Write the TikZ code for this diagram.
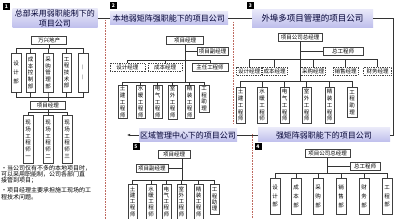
\documentclass[tikz,border=0pt]{standalone}
\usepackage{fontspec}
\setmainfont{Noto Sans CJK SC}
\usetikzlibrary{calc,arrows.meta}

\definecolor{lav}{RGB}{190,190,236}
\definecolor{sepred}{RGB}{190,105,95}

\begin{document}
\begin{tikzpicture}[x=1pt,y=-1pt,
    box/.style={draw=black!75, fill=white, line width=0.5pt, inner sep=1pt, minimum height=8pt, font=\fontsize{5.5}{6}\selectfont},
    dbox/.style={box, dash pattern=on 1pt off 0.8pt},
    col/.style={box, anchor=north, align=center, minimum width=9.5pt, inner sep=0.8pt, font=\fontsize{5.5}{6.7}\selectfont},
    title/.style={top color=lav!35, bottom color=lav, inner sep=1pt, align=center, text=black!80!blue, font=\fontsize{8}{9.5}\selectfont},
    num/.style={fill=black, text=white, inner sep=0pt, minimum size=7pt, font=\fontsize{5}{5}\selectfont\bfseries},
    sep/.style={sepred, line width=0.8pt, dash pattern=on 0.6pt off 1pt},
    link/.style={black!80, line width=0.5pt}]
    \clip (0,0) rectangle (400,219);
    \fill[white] (0,0) rectangle (400,219);

    \draw[sep] (105,20) -- (105,219);
    \draw[sep] (233,22) -- (233,124);
    \draw[sep] (252,134) -- (252,219);

    \node[num] (n1) at (6.5,6.5) {1};
    \node[title, minimum width=85pt, minimum height=19pt] (t1) at (55,18.5) {总部采用弱职能制下的\\项目公司};
    \node[box, minimum width=35pt] (c1) at (49,40) {万兴地产};
    \node[col, minimum height=39pt] (k1a) at (16,53) {设\\[2.5pt]计\\[2.5pt]部};
    \node[col, minimum height=39pt] (k1b) at (30.5,53) {成\\本\\控\\制\\部};
    \node[col, minimum height=39pt] (k1c) at (48,53) {采\\购\\管\\理\\部};
    \node[col, minimum height=39pt] (k1d) at (66.5,53) {工\\程\\技\\术\\部};
    \node[col, minimum height=39pt] (k1e) at (83,53) {︱\\[3pt]︱};
    \coordinate (b1t) at (0,48);
    \coordinate (b1b) at (0,97);
    \node[box, minimum width=35pt] (pm1) at (48,105) {项目经理};
    \coordinate (b1c) at (0,112);
    \node[col, minimum height=48pt] (f1a) at (28,115) {现\\场\\工\\程\\师\\一};
    \node[col, minimum height=48pt] (f1b) at (48,115) {现\\场\\工\\程\\师\\二};
    \node[col, minimum height=48pt] (f1c) at (67,115) {现\\场\\工\\程\\师\\三};
    \foreach \n in {k1a,k1b,k1c,k1d,k1e} {
        \draw[link] (c1) |- (b1t -| \n) -- (\n);
        \draw[link] (\n) |- (b1b -| pm1) -- (pm1);
    }
    \foreach \n in {f1a,f1b,f1c}
        \draw[link] (pm1) |- (b1c -| \n) -- (\n);
    \node[anchor=north west, align=left, inner sep=0pt, font=\fontsize{6}{6.2}\selectfont] (txt1) at (1,165)
        {•当公司仅有不多的本地项目时，\\可以采用职能制，公司各部门直\\接管到项目；\\[4pt]•项目经理主要承担施工现场的工\\程技术问题。};

    \node[num] (n2) at (113.5,5.5) {2};
    \node[title, minimum width=118pt, minimum height=13pt] (t2) at (169,18.5) {本地弱矩阵强职能下的项目公司};
    \draw[link] (t1) -- (t2);
    \node[box, minimum width=37pt] (pm2) at (185,40) {项目经理};
    \node[box, minimum width=31pt] (vp2) at (212.5,51) {项目副经理};
    \node[dbox, minimum width=35pt] (dd2) at (127.5,67.5) {设计经理};
    \node[dbox, minimum width=34pt] (dc2) at (165,67.5) {成本经理};
    \node[box, minimum width=36pt] (ce2) at (210,67.5) {主任工程师};
    \coordinate (b2a) at (0,60);
    \coordinate (b2b) at (0,82);
    \node[col, minimum height=33pt] (k2a) at (122.5,85) {土\\建\\工\\程\\师};
    \node[col, minimum height=33pt] (k2b) at (140.5,85) {水\\暖\\工\\程\\师};
    \node[col, minimum height=33pt] (k2c) at (157.5,85) {电\\气\\工\\程\\师};
    \node[col, minimum height=33pt] (k2d) at (172.5,85) {室\\外\\工\\程\\师};
    \node[col, minimum height=33pt] (k2e) at (189.5,85) {精\\装\\工\\程\\师};
    \node[col, minimum height=27pt] (k2f) at (204,85) {工\\程\\助\\理};
    \draw[link] (pm2) |- (vp2);
    \foreach \n in {dd2,dc2,ce2}
        \draw[link] (pm2) |- (b2a -| \n) -- (\n);
    \foreach \n in {k2a,k2b,k2c,k2d,k2e,k2f}
        \draw[link] (pm2) |- (b2b -| \n) -- (\n);

    \node[num] (n3) at (250.5,6) {3};
    \node[title, minimum width=121pt, minimum height=18pt, font=\fontsize{8.5}{10}\selectfont] (t3) at (312.5,18.5) {外埠多项目管理的项目公司};
    \draw[link] (t2) -- (t3);
    \node[box, minimum width=44pt] (gm3) at (300,37.5) {项目公司总经理};
    \node[box, minimum width=40pt] (ce3) at (343,51) {总工程师};
    \node[dbox, minimum width=25pt] (dd3) at (249,71) {设计经理};
    \node[dbox, minimum width=25pt] (dc3) at (274.5,71) {成本经理};
    \node[dbox, minimum width=25pt] (dp3) at (313,71) {采购经理};
    \node[dbox, minimum width=25pt] (ds3) at (345.5,71) {销售经理};
    \node[dbox, minimum width=28pt] (df3) at (377.5,71) {财务经理};
    \coordinate (b3a) at (0,59);
    \coordinate (b3b) at (0,81);
    \node[col, minimum height=36pt] (k3a) at (240.5,87) {土\\建\\工\\程\\师};
    \node[col, minimum height=36pt] (k3b) at (262,87) {水\\暖\\工\\程\\师};
    \node[col, minimum height=36pt] (k3c) at (284.5,87) {电\\气\\工\\程\\师};
    \node[col, minimum height=36pt] (k3d) at (306.5,87) {室\\外\\工\\程\\师};
    \node[col, minimum height=36pt] (k3e) at (329.5,87) {精\\装\\工\\程\\师};
    \node[col, minimum height=30pt] (k3f) at (352,87) {工\\程\\助\\理};
    \draw[link] (gm3) |- (ce3);
    \foreach \n in {dd3,dc3,dp3,ds3,df3}
        \draw[link] (gm3) |- (b3a -| \n) -- (\n);
    \foreach \n in {k3a,k3b,k3c,k3d,k3e,k3f}
        \draw[link] (gm3) |- (b3b -| \n) -- (\n);

    \node[title, minimum width=132pt, minimum height=14pt] (t4) at (324,135) {强矩阵弱职能下的项目公司};
    \coordinate (r3) at (393,18.5);
    \draw[link] (t3) -- (r3) |- (t4);
    \node[num] (n4) at (258,147) {4};
    \node[box, minimum width=45pt] (gm4) at (327.5,153.5) {项目公司总经理};
    \node[box, minimum width=30pt] (ce4) at (365,166.5) {总工程师};
    \coordinate (b4) at (0,173);
    \node[col, minimum height=36pt] (k4a) at (275,178) {设\\[2pt]计\\[2pt]部};
    \node[col, minimum height=36pt] (k4b) at (296,178) {成\\[2pt]本\\[2pt]部};
    \node[col, minimum height=36pt] (k4c) at (318,178) {采\\[2pt]购\\[2pt]部};
    \node[col, minimum height=36pt] (k4d) at (341,178) {销\\[2pt]售\\[2pt]部};
    \node[col, minimum height=36pt] (k4e) at (364,178) {财\\[2pt]务\\[2pt]部};
    \node[col, minimum height=36pt] (k4f) at (387,178) {工\\[2pt]程\\[2pt]部};
    \draw[link] (gm4) |- (ce4);
    \foreach \n in {k4a,k4b,k4c,k4d,k4e,k4f}
        \draw[link] (gm4) |- (b4 -| \n) -- (\n);

    \node[title, minimum width=98pt, minimum height=13pt] (t5) at (188,135) {区域管理中心下的项目公司};
    \draw[link] (t4) -- (t5);
    \coordinate (a5) at (127,135);
    \draw[link, -{Latex[length=3pt,width=2.5pt]}] (t5) -- (a5);
    \node[num] (n5) at (136,146.5) {5};
    \node[box, minimum width=32pt] (pm5) at (174,154) {项目经理};
    \node[box, minimum width=32pt] (vp5) at (152,168) {项目副经理};
    \coordinate (j5) at ($(pm5.south)+(8,0)$);
    \coordinate (b5) at (0,180);
    \node[col, minimum height=35pt, font=\fontsize{5.5}{6.1}\selectfont] (k5a) at (132.5,184) {土\\建\\工\\程\\师};
    \node[col, minimum height=35pt, font=\fontsize{5.5}{6.1}\selectfont] (k5b) at (151,184) {水\\暖\\工\\程\\师};
    \node[col, minimum height=35pt, font=\fontsize{5.5}{6.1}\selectfont] (k5c) at (166.5,184) {电\\气\\工\\程\\师};
    \node[col, minimum height=35pt, font=\fontsize{5.5}{6.1}\selectfont] (k5d) at (181.5,184) {室\\外\\工\\程\\师};
    \node[col, minimum height=35pt, font=\fontsize{5.5}{6.1}\selectfont] (k5e) at (198.5,184) {精\\装\\工\\程\\师};
    \node[col, minimum height=30pt, font=\fontsize{5.5}{6.1}\selectfont] (k5f) at (214.5,184) {工\\程\\助\\理};
    \draw[link] (j5) |- (vp5);
    \foreach \n in {k5a,k5b,k5c,k5d,k5e,k5f}
        \draw[link] (j5) |- (b5 -| \n) -- (\n);
\end{tikzpicture}
\end{document}
